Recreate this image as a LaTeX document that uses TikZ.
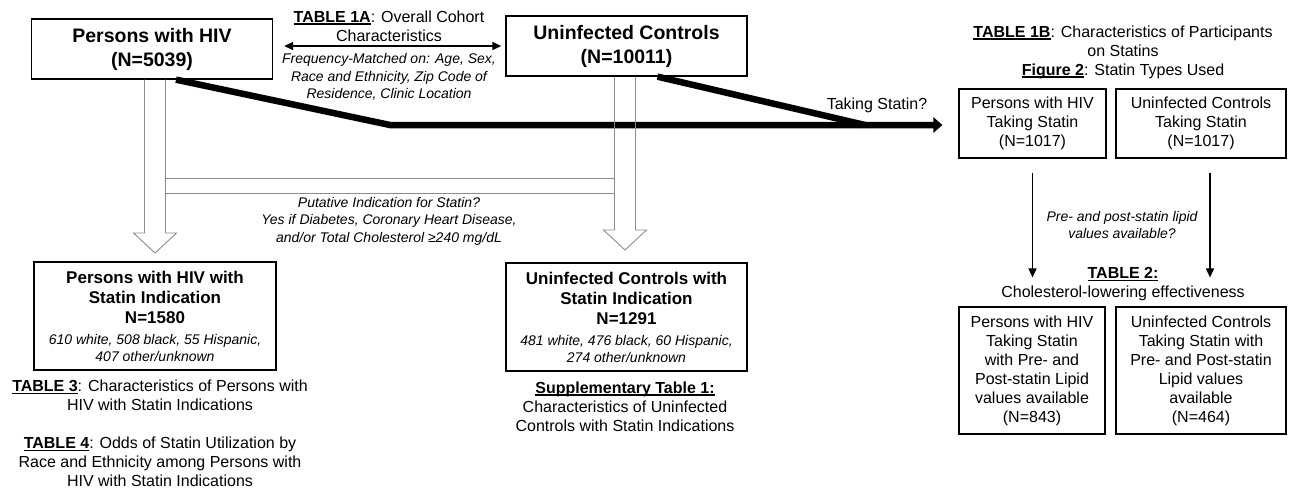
\documentclass[tikz,border=0pt]{standalone}
\usepackage{fontspec}
\setmainfont{Liberation Sans}
\usetikzlibrary{arrows.meta,calc}

\newsavebox{\ulbox}
\newcommand{\ulb}[1]{\sbox{\ulbox}{\textbf{#1}}\rlap{\rule[-2.5pt]{\wd\ulbox}{1.3pt}}\usebox{\ulbox}}
\newcommand{\smit}{\mdseries\itshape\fontsize{14}{17}\selectfont}
\newcommand{\blockarrow}[2]{%
  \draw[blockline] let \p1=(#1), \p2=(#2) in
    (\x2-10.5pt,\y1) -- (\x2-10.5pt,\y2+20pt) -- (\x2-21.5pt,\y2+20pt) -- (\p2)
    -- (\x2+21.5pt,\y2+20pt) -- (\x2+10.5pt,\y2+20pt) -- (\x2+10.5pt,\y1);}

\begin{document}
\begin{tikzpicture}[x=1pt,y=-1pt,
    topbox/.style={draw,line width=1.3pt,minimum width=241,minimum height=60,align=center,inner sep=0pt,font=\bfseries\fontsize{19.5}{24}\selectfont},
    midbox/.style={draw,line width=1.3pt,minimum width=241,minimum height=108,align=center,inner sep=0pt,font=\bfseries\fontsize{17}{20}\selectfont},
    statbox/.style={draw,line width=1.1pt,align=center,inner sep=0pt,font=\fontsize{16}{19}\selectfont},
    lbl/.style={align=center,inner sep=0pt,font=\fontsize{16}{19}\selectfont},
    note/.style={align=center,inner sep=0pt,font=\itshape\fontsize{14}{17.5}\selectfont},
    blockline/.style={draw=black!45,line width=0.9pt,line join=miter},
    linkarrow/.style={line width=1.5pt,-{Triangle[length=9pt,width=8pt]}},
    pairarrow/.style={line width=1.5pt,{Triangle[length=9pt,width=8pt]}-{Triangle[length=9pt,width=8pt]}},
    fatline/.style={line width=6.5pt},
    fatarrow/.style={line width=6.5pt,-{Triangle[length=9pt,width=15pt]}}]
  \useasboundingbox (0,0) rectangle (1292,493);

  \draw
    (152,49) node[topbox] (hiv) {Persons with HIV\\(N=5039)}
    (626.5,46) node[topbox] (unc) {Uninfected Controls\\(N=10011)};
  \draw
    (155,316) node[midbox,minimum width=242] (hivind) {Persons with HIV with\\Statin Indication\\N=1580\\[1pt]\smit 610 white, 508 black, 55 Hispanic,\\[-3pt]\smit 407 other/unknown}
    (626.5,317) node[midbox] (uncind) {Uninfected Controls with\\Statin Indication\\N=1291\\[1pt]\smit 481 white, 476 black, 60 Hispanic,\\[-3pt]\smit 274 other/unknown};
  \draw
    (1032.5,123.5) node[statbox,minimum width=147,minimum height=69] (hivst) {Persons with HIV\\Taking Statin\\(N=1017)}
    (1201,123.5) node[statbox,minimum width=170,minimum height=69] (uncst) {Uninfected Controls\\Taking Statin\\(N=1017)}
    (1032,370.5) node[statbox,minimum width=146,minimum height=127] (hivlip) {Persons with HIV\\Taking Statin\\with Pre- and\\Post-statin Lipid\\values available\\(N=843)}
    (1201,370.5) node[statbox,minimum width=170,minimum height=127] (unclip) {Uninfected Controls\\Taking Statin with\\Pre- and Post-statin\\Lipid values\\available\\(N=464)};

  \node[lbl] (t1a) at (389,26) {\ulb{TABLE 1A}: Overall Cohort\\Characteristics};
  \node[note] (match) at (389,77) {Frequency-Matched on: Age, Sex,\\Race and Ethnicity, Zip Code of\\Residence, Clinic Location};
  \node[lbl] (t1b) at (1123,52) {\ulb{TABLE 1B}: Characteristics of Participants\\on Statins\\\ulb{Figure 2}: Statin Types Used};
  \node[lbl] (ask) at (877,105) {Taking Statin?};
  \node[note] (lipq) at (1122,225) {Pre- and post-statin lipid\\values available?};
  \node[lbl] (t2) at (1123,284) {\ulb{TABLE 2:}\\Cholesterol-lowering effectiveness};
  \node[note] (indq) at (389,221) {Putative Indication for Statin?\\Yes if Diabetes, Coronary Heart Disease,\\and/or Total Cholesterol ≥240 mg/dL};
  \node[lbl] (t3) at (160,395.5) {\ulb{TABLE 3}: Characteristics of Persons with\\HIV with Statin Indications};
  \node[lbl] (t4) at (160,462) {\ulb{TABLE 4}: Odds of Statin Utilization by\\Race and Ethnicity among Persons with\\HIV with Statin Indications};
  \node[lbl] (sup) at (625,406.5) {\ulb{Supplementary Table 1:}\\Characteristics of Uninfected\\Controls with Statin Indications};

  \coordinate (j1) at (390,125);
  \coordinate (j2) at (865,125);
  \coordinate (lhead) at (155,253);
  \coordinate (rhead) at (625,250);

  \begin{scope}
    \draw[pairarrow,shorten <=11pt,shorten >=4pt] (hiv.east |- unc.west) -- (unc.west);
    \draw[fatline] ([xshift=31pt]unc.south) -- (j2);
    \draw[fatarrow,shorten >=16pt] ([xshift=24pt]hiv.south) -- (j1) -- (j1 -| hivst.west);
    \draw[linkarrow,shorten <=14pt,shorten >=29pt] (hivst.south) -- (hivst.south |- hivlip.north);
    \draw[linkarrow,shorten <=14pt,shorten >=29pt] ([xshift=9pt]uncst.south) -- ([xshift=9pt]unclip.north);
  \end{scope}

  \blockarrow{hiv.south}{lhead}
  \blockarrow{unc.south}{rhead}
  \draw[blockline] (165.5,178) -- (614.5,178) (165.5,193) -- (614.5,193);
\end{tikzpicture}
\end{document}
